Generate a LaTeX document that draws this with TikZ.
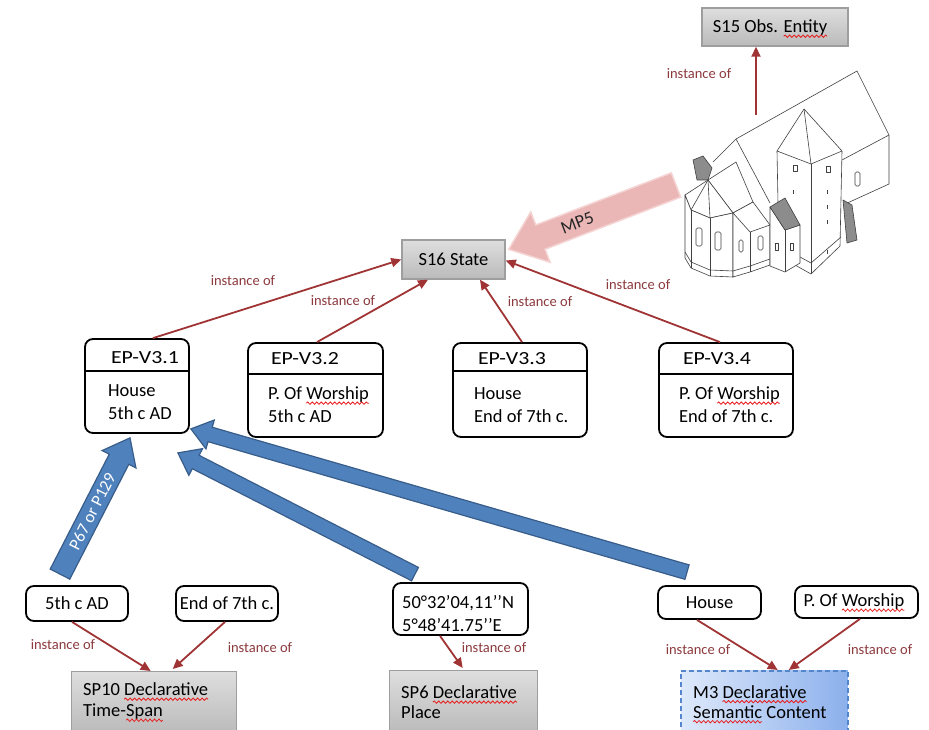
\documentclass[tikz,border=0pt]{standalone}
\usepackage{fontspec}
\setmainfont{Carlito}
\usetikzlibrary{arrows.meta,calc,decorations.pathmorphing}
\definecolor{arrred}{RGB}{160,52,52}
\definecolor{lblred}{RGB}{140,58,62}
\definecolor{blkblue}{RGB}{79,129,189}
\definecolor{blkblueb}{RGB}{56,93,138}
\definecolor{pinkf}{RGB}{234,182,182}
\definecolor{pinkb}{RGB}{245,212,212}
\definecolor{m3l}{RGB}{222,233,251}
\definecolor{m3r}{RGB}{140,176,236}
\definecolor{m3b}{RGB}{84,134,204}
\definecolor{sqred}{RGB}{232,30,30}
\tikzset{
 graybox/.style={draw=black!38, line width=1.4pt, top color=black!13, bottom color=black!27, inner sep=0pt},
 m3box/.style={draw=m3b, line width=1.5pt, dash pattern=on 5pt off 3pt, left color=m3l, right color=m3r, inner sep=0pt},
 rbox/.style={draw=black, line width=1.8pt, rounded corners=8pt, fill=white, inner sep=0pt},
 txt/.style={inner sep=0pt, font=\fontsize{18.5}{23}\selectfont, align=left},
 lbl/.style={inner sep=0pt, text=lblred, font=\fontsize{14.5}{17}\selectfont},
 inst/.style={draw=arrred, line width=1.8pt, -{Triangle[length=10pt,width=9pt]}},
 sqline/.style={draw=sqred, line width=0.8pt, decorate, decoration={snake,amplitude=1.2pt,segment length=4.5pt}},
 churchline/.style={draw=black!75, line width=0.6pt, line join=round},
 hatch/.style={draw=black!75, line width=0.6pt, fill=black!45},
 bluearr/.style={fill=blkblue, draw=blkblueb, line width=1.2pt, line join=miter},
 pinkarr/.style={fill=pinkf, draw=pinkb, line width=1.5pt, line join=miter},
}
\newcommand{\sqw}[1]{\tikz[baseline=(sqn.base)]{\node[inner sep=0pt,outer sep=0pt,minimum size=0pt,draw=none,fill=none,anchor=center] (sqn) {#1};\draw[sqline,overlay] ([yshift=-3.3pt]sqn.base west) -- ([yshift=-3.3pt]sqn.base east);}}
\newcommand{\eptitle}[1]{\scalebox{1.18}[1]{#1}}
\newcommand{\blkarrow}[6]{%
 \coordinate (#1-h) at ($(#2)!#5!(#1)$);
 \path[#6] ($(#1)!#3!90:(#2)$) -- ($(#1-h)!#3!90:(#2)$) -- ($(#1-h)!#4!90:(#2)$) -- (#2) -- ($(#1-h)!#4!-90:(#2)$) -- ($(#1-h)!#3!-90:(#2)$) -- ($(#1)!#3!-90:(#2)$) -- cycle;}
\begin{document}
\begin{tikzpicture}[x=1pt,y=-1pt]
\useasboundingbox (0,0) rectangle (929,730);
\fill[white] (0,0) rectangle (929,730);
% ---------- church ----------
\begin{scope}[churchline]
\draw (713,162) -- (736,139) -- (857,71) -- (889,135) -- (889,184) -- (843,205);
\draw (736,139) -- (770,203);
\draw (842,160) -- (889,135);
\draw[rounded corners=1.5pt] (855,172) rectangle (860,186);
\draw[fill=white] (777,151) -- (804,109) -- (842,151) -- (840,246) -- (811,274) -- (779,256) -- cycle;
\draw (804,109) -- (811,164);
\draw (777,151) -- (811,164) -- (842,151);
\draw (811,164) -- (811,274);
\draw (778,245) -- (811,263) -- (841,237);
\draw (793,165) rectangle (797,171);
\draw (826,166) rectangle (830,172);
\draw (827,190) -- (827,194); \draw (827,205) -- (827,209); \draw (827,220) -- (827,224);
\draw (793,190) -- (793,194); \draw (827,250) -- (827,254);
\draw[hatch] (843,200) -- (852,205) -- (857,240) -- (847,243) -- cycle;
\draw[hatch] (693,160) -- (703,156) -- (712,168) -- (708,180) -- (697,180) -- cycle;
\draw[fill=white] (708,180) -- (736,162) -- (753,202) -- (733,213) -- cycle;
\draw[fill=white] (708,180) -- (685,195) -- (691,210) -- (710,218) -- (733,213) -- cycle;
\draw (708,180) -- (691,210); \draw (708,180) -- (710,218);
\draw[fill=white] (685,195) -- (685,258) -- (691,268) -- (710,276) -- (733,277) -- (733,213) -- (710,218) -- (691,210) -- cycle;
\draw (691,210) -- (691,268); \draw (710,218) -- (710,276);
\draw (685,252) -- (691,262) -- (710,270) -- (733,271);
\draw[fill=white] (733,213) -- (753,202) -- (770,225) -- (770,265) -- (750,272) -- (733,277) -- cycle;
\draw (733,213) -- (750,232) -- (770,225); \draw (750,232) -- (750,272);
\draw (733,271) -- (750,266) -- (770,259);
\draw[fill=white] (770,207) -- (785,230) -- (800,225) -- (800,263) -- (785,272) -- (770,266) -- cycle;
\draw[hatch] (770,207) -- (785,198) -- (800,225) -- (785,230) -- cycle;
\draw (785,230) -- (785,272);
\draw (790,243) rectangle (793,250);
\draw (775,243) rectangle (778,250);
\draw[rounded corners=1.5pt] (696,228) rectangle (702,246);
\draw[rounded corners=1.5pt] (715,232) rectangle (721,250);
\draw[rounded corners=1.5pt] (739,240) rectangle (743,252);
\draw[rounded corners=1.5pt] (758,236) rectangle (763,250);
\end{scope}
% ---------- nodes ----------
\node[graybox, minimum width=146pt, minimum height=38pt] (s15) at (775,27) {};
\node[txt] (s15t) at (770,28) {S15 Obs. \sqw{Entity}};
\node[graybox, minimum width=103pt, minimum height=39pt, txt] (s16) at (453.5,259.5) {S16 State};

\node[rbox, minimum width=104pt, minimum height=94pt] (ep1) at (137,386) {};
\draw[line width=1.8pt] ($(ep1.north west)+(0,33)$) -- ($(ep1.north east)+(0,33)$);
\node[txt] (ep1t) at (145,358) {\eptitle{EP-V3.1}};
\node[txt, anchor=west] (ep1b) at (108,402.5) {House\\5th c AD};

\node[rbox, minimum width=135pt, minimum height=94pt] (ep2) at (315.5,390) {};
\draw[line width=1.8pt] ($(ep2.north west)+(0,32)$) -- ($(ep2.north east)+(0,32)$);
\node[txt] (ep2t) at (305,359) {\eptitle{EP-V3.2}};
\node[txt, anchor=west] (ep2b) at (268,405) {P. Of \sqw{Worship}\\5th c AD};

\node[rbox, minimum width=134pt, minimum height=94pt] (ep3) at (520,390) {};
\draw[line width=1.8pt] ($(ep3.north west)+(0,29)$) -- ($(ep3.north east)+(0,29)$);
\node[txt] (ep3t) at (512,359) {\eptitle{EP-V3.3}};
\node[txt, anchor=west] (ep3b) at (474,405) {House\\End of 7th c.};

\node[rbox, minimum width=134pt, minimum height=94pt] (ep4) at (726,390) {};
\draw[line width=1.8pt] ($(ep4.north west)+(0,32)$) -- ($(ep4.north east)+(0,32)$);
\node[txt] (ep4t) at (717,359) {\eptitle{EP-V3.4}};
\node[txt, anchor=west] (ep4b) at (679,405) {P. Of \sqw{Worship}\\End of 7th c.};

\node[rbox, minimum width=102pt, minimum height=35pt, txt] (b5th) at (77,603.5) {5th c AD};
\node[rbox, minimum width=102pt, minimum height=35pt, txt] (bend) at (227,603.5) {End of 7th c.};
\node[rbox, minimum width=135pt, minimum height=52pt] (coord) at (460.5,609) {};
\node[txt, anchor=west] (coordt) at (402,613.5) {50°32’04,11’’N\\5°48’41.75’’E};
\node[rbox, minimum width=103pt, minimum height=33pt, txt] (house) at (709.5,602.5) {House};
\node[rbox, minimum width=123pt, minimum height=32pt] (pw) at (856.5,602) {};
\node[txt] (pwt) at (854,602) {P. Of \sqw{Worship}};

\node[graybox, minimum width=165pt, minimum height=62pt, anchor=north west] (sp10) at (71,671) {};
\node[txt, anchor=west, font=\fontsize{18.5}{21}\selectfont] (sp10t) at (83,701.5) {SP10 \sqw{Declarative}\\Time-\sqw{Span}};
\node[graybox, minimum width=148pt, minimum height=63pt, anchor=north west] (sp6) at (389,670) {};
\node[txt, anchor=west, font=\fontsize{18.5}{20}\selectfont] (sp6t) at (401,702.5) {SP6 \sqw{Declarative}\\Place};
\node[m3box, minimum width=167pt, minimum height=63pt, anchor=north west] (m3) at (680,670) {};
\node[txt, anchor=west, font=\fontsize{18.5}{20}\selectfont] (m3t) at (693,702) {M3 \sqw{Declarative}\\\sqw{Semantic} Content};

% ---------- labels ----------
\node[lbl] (l0) at (699,74) {instance of};
\node[lbl] (l1) at (243,281) {instance of};
\node[lbl] (l2) at (343,301) {instance of};
\node[lbl] (l3) at (540,302) {instance of};
\node[lbl] (l4) at (638,285) {instance of};
\node[lbl] (l5) at (63,645) {instance of};
\node[lbl] (l6) at (260,648) {instance of};
\node[lbl] (l7) at (494,648) {instance of};
\node[lbl] (l8) at (698,650) {instance of};
\node[lbl] (l9) at (880,650) {instance of};

% ---------- instance-of arrows ----------
\coordinate (chtop) at (756,115);
\draw[inst] (chtop) -- ($(s15.south)+(-19,0)$);
\draw[inst] ($(ep1.north)+(16,0)$) -- (s16.west);
\draw[inst] ($(ep2.north)+(1.5,0)$) -- ($(s16.south)+(-25.5,0)$);
\draw[inst] ($(ep3.north)+(2,0)$) -- ($(s16.south)+(26.5,0)$);
\draw[inst] ($(ep4.north)+(-6,0)$) -- ($(s16.east)+(0,1)$);
\draw[inst] ($(b5th.south)+(-5,0)$) -- ($(sp10.north)+(-3.5,0)$);
\draw[inst] ($(bend.south)+(-2,0)$) -- ($(sp10.north)+(18.5,-2)$);
\draw[inst] ($(coord.south)+(-20.5,0)$) -- ($(sp6.north)+(-1,-2)$);
\draw[inst] ($(house.south)+(-12.5,0)$) -- ($(m3.north)+(13.5,0)$);
\draw[inst] ($(pw.south)+(3.5,0)$) -- ($(m3.north)+(24.5,0)$);

% ---------- block arrows ----------
\coordinate (bt1) at ($(b5th.north)+(-17,-11)$);
\coordinate (bh1) at ($(ep1.south)+(-7,4)$);
\blkarrow{bt1}{bh1}{11pt}{19pt}{24pt}{bluearr}
\node[rotate=63, text=white, font=\fontsize{17}{20}\selectfont, inner sep=0pt] (p67) at ($(bt1)!0.46!(bh1)$) {P67 or P129};
\coordinate (bt2) at ($(coord.north)+(-45.5,-8)$);
\coordinate (bh2) at ($(ep1.south east)+(-12,19)$);
\blkarrow{bt2}{bh2}{7.5pt}{15pt}{20pt}{bluearr}
\coordinate (bt3) at ($(house.north)+(-22.5,-13)$);
\coordinate (bh3) at ($(ep1.south east)+(1,-5)$);
\blkarrow{bt3}{bh3}{7.5pt}{15pt}{20pt}{bluearr}
\coordinate (mpt) at (676,185);
\coordinate (mph) at ($(s16.north east)+(3,10)$);
\blkarrow{mpt}{mph}{13pt}{27pt}{34pt}{pinkarr}
\node[rotate=21, text=black!85, font=\fontsize{18}{20}\selectfont, inner sep=0pt] (mp5) at ($(mpt)!0.59!(mph)$) {MP5};
\end{tikzpicture}
\end{document}
